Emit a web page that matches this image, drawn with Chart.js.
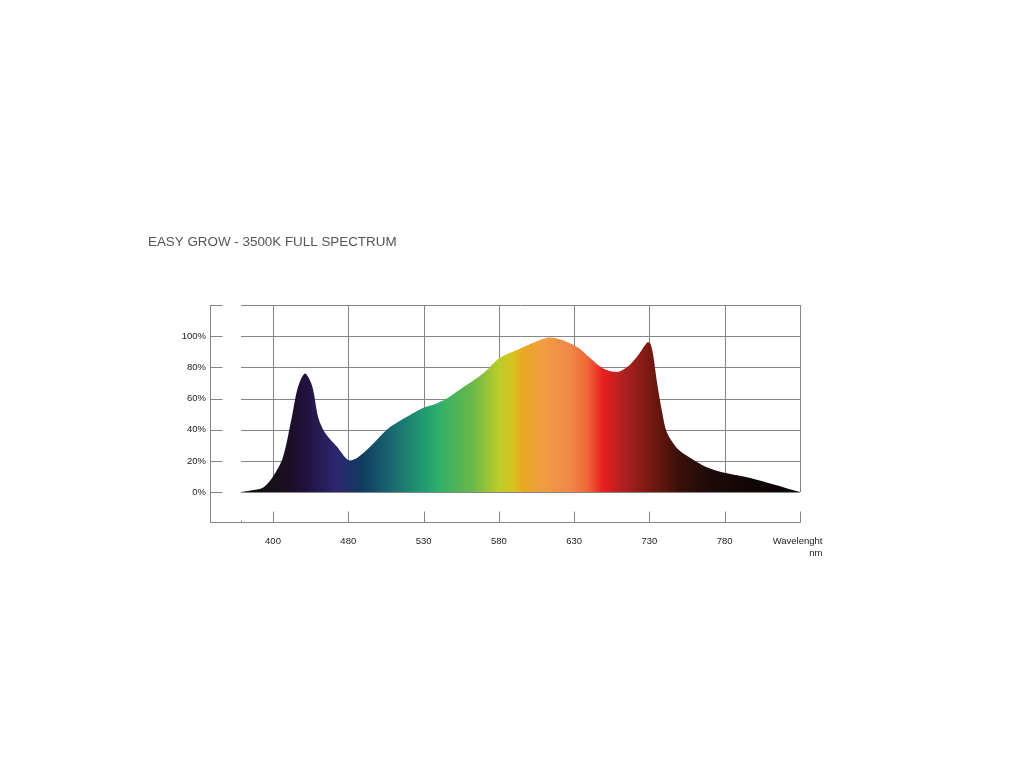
<!DOCTYPE html>
<html>
<head>
<meta charset="utf-8">
<title>Easy Grow spectrum</title>
<script src="https://cdn.jsdelivr.net/npm/chart.js@4"></script>
<style>
    body { margin: 0; background: #ffffff; }
    #grafico { display: block; }
</style>
</head>
<body>
<canvas id="grafico" width="1024" height="768"></canvas>
<script>
// Dados do espectro (posição no eixo em unidades de grade, intensidade em %)
const tituloGrafico = "EASY GROW - 3500K FULL SPECTRUM";
const rotulosX = ["400", "480", "530", "580", "630", "730", "780"];
const rotuloEixoX = ["Wavelenght", "nm"];
const ticksY = [0, 20, 40, 60, 80, 100];
const posicoes = [-0.425, -0.3, -0.13, 0, 0.13, 0.25, 0.33, 0.425, 0.52, 0.6, 0.69, 0.85, 1.0, 1.12, 1.29, 1.51, 1.73, 1.99, 2.13, 2.31, 2.52, 2.79, 3.01, 3.28, 3.64, 3.81, 4.04, 4.21, 4.38, 4.57, 4.7, 4.83, 4.97, 5.01, 5.05, 5.1, 5.17, 5.23, 5.37, 5.54, 5.76, 6.03, 6.34, 6.64, 7.0];
const intensidades = [0, 1, 3, 10, 22, 48, 67, 76, 68, 48, 38, 29, 20.5, 22, 29, 40, 47, 54, 56, 60, 67, 76, 86, 92, 99, 98, 93, 86, 79.5, 77, 80, 86.5, 96, 95.5, 88, 70.5, 51, 38.5, 28, 22, 16, 12, 9, 5, 0];

// Cores do gradiente (posição no eixo x -> cor)
const coresEspectro = [
    [-0.425, "#121012"], [0.0, "#151016"], [0.36, "#1e0f35"], [0.85, "#2e2670"],
    [1.19, "#0f3d60"], [1.55, "#1a6570"], [2.04, "#22a070"], [2.21, "#30b068"],
    [2.65, "#6ab848"], [3.0, "#bccc2a"], [3.18, "#d4c420"], [3.31, "#e8a820"],
    [3.54, "#f0a040"], [3.94, "#f08848"], [4.17, "#f06838"], [4.38, "#e82020"],
    [4.7, "#a82020"], [5.05, "#701810"], [5.4, "#3a1008"], [5.76, "#200a0a"],
    [6.37, "#100606"], [7.0, "#0c0606"]
];

const corGrade = "#858585";

function preencherEspectro(context) {
    const chart = context.chart;
    const area = chart.chartArea;
    if (!area) return "#000";
    const escalaX = chart.scales.x;
    const x0 = escalaX.getPixelForValue(coresEspectro[0][0]);
    const x1 = escalaX.getPixelForValue(coresEspectro[coresEspectro.length - 1][0]);
    const grad = chart.ctx.createLinearGradient(x0, 0, x1, 0);
    coresEspectro.forEach((c) => {
        const px = escalaX.getPixelForValue(c[0]);
        grad.addColorStop(Math.min(1, Math.max(0, (px - x0) / (x1 - x0))), c[1]);
    });
    return grad;
}

// Grade e moldura desenhadas com as escalas do Chart.js
const pluginGrade = {
    id: "gradeEspectro",
    beforeDatasetsDraw(chart) {
        const ctx = chart.ctx;
        const xs = chart.scales.x;
        const ys = chart.scales.y;
        const xIni = xs.getPixelForValue(posicoes[0]);
        const xFim = xs.getPixelForValue(rotulosX.length);
        ctx.save();
        ctx.strokeStyle = corGrade;
        ctx.lineWidth = 1;
        ctx.beginPath();
        ticksY.concat([120]).forEach((v) => {
            const y = Math.round(ys.getPixelForValue(v)) + 0.5;
            ctx.moveTo(xIni, y);
            ctx.lineTo(xFim, y);
        });
        for (let i = 0; i <= rotulosX.length; i++) {
            const x = Math.round(xs.getPixelForValue(i)) + 0.5;
            ctx.moveTo(x, ys.getPixelForValue(120));
            ctx.lineTo(x, ys.getPixelForValue(0));
        }
        ctx.stroke();
        ctx.restore();
    },
    afterDatasetsDraw(chart) {
        const ctx = chart.ctx;
        const area = chart.chartArea;
        const xs = chart.scales.x;
        const ys = chart.scales.y;
        const esq = Math.round(area.left) + 0.5;
        const base = Math.round(area.bottom) + 0.5;
        const xFim = Math.round(xs.getPixelForValue(rotulosX.length)) + 0.5;
        ctx.save();
        ctx.strokeStyle = corGrade;
        ctx.lineWidth = 1;
        ctx.beginPath();
        // moldura esquerda e inferior
        ctx.moveTo(esq, Math.round(area.top));
        ctx.lineTo(esq, base);
        ctx.lineTo(xFim, base);
        // marcas do eixo y
        ticksY.concat([120]).forEach((v) => {
            const y = Math.round(ys.getPixelForValue(v)) + 0.5;
            ctx.moveTo(esq, y);
            ctx.lineTo(esq + 12, y);
        });
        // marcas do eixo x
        for (let i = 0; i <= rotulosX.length; i++) {
            const x = Math.round(xs.getPixelForValue(i)) + 0.5;
            ctx.moveTo(x, base - 11);
            ctx.lineTo(x, base);
        }
        const xPeq = Math.round(xs.getPixelForValue(posicoes[0])) + 0.5;
        ctx.moveTo(xPeq, base - 2);
        ctx.lineTo(xPeq, base);
        ctx.stroke();

        // rótulos
        ctx.fillStyle = "#222";
        ctx.font = "9.5px 'Liberation Sans', Arial, sans-serif";
        ctx.textBaseline = "middle";
        ctx.textAlign = "right";
        ticksY.forEach((v) => {
            ctx.fillText(v + "%", area.left - 4, ys.getPixelForValue(v));
        });
        ctx.textAlign = "center";
        rotulosX.forEach((r, i) => {
            ctx.fillText(r, xs.getPixelForValue(i), base + 19);
        });
        ctx.textAlign = "right";
        ctx.fillText(rotuloEixoX[0], xFim + 22, base + 19);
        ctx.fillText(rotuloEixoX[1], xFim + 22, base + 31);

        // título
        ctx.fillStyle = "#555";
        ctx.font = "13.4px 'Liberation Sans', Arial, sans-serif";
        ctx.textAlign = "left";
        ctx.fillText(tituloGrafico, 148, 242);
        ctx.restore();
    }
};

const ctx = document.getElementById("grafico").getContext("2d");
new Chart(ctx, {
    type: "line",
    data: {
        datasets: [
            {
                label: "Espectro",
                data: posicoes.map((p, i) => ({ x: p, y: intensidades[i] })),
                fill: "origin",
                backgroundColor: preencherEspectro,
                borderWidth: 0,
                pointRadius: 0,
                tension: 0.3,
            },
        ],
    },
    options: {
        responsive: false,
        animation: false,
        layout: {
            padding: { left: 210, right: 224, top: 305, bottom: 246 },
        },
        plugins: {
            legend: { display: false },
            tooltip: { enabled: false },
            title: { display: false },
        },
        scales: {
            x: { type: "linear", min: -0.837, max: 7, display: false },
            y: { min: -19.2, max: 120, display: false },
        },
    },
    plugins: [pluginGrade],
});
</script>
</body>
</html>
